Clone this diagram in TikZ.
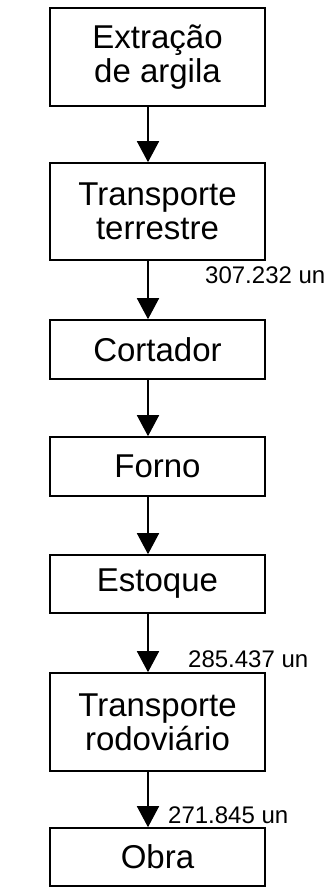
\documentclass[tikz,border=0pt]{standalone}
\usepackage{fontspec}
\setmainfont{Liberation Sans}
\usetikzlibrary{arrows.meta}

\tikzset{
  etapa/.style={draw, line width=1.6pt, minimum width=215pt, align=center,
    inner sep=0pt, font=\fontsize{33}{34}\selectfont},
  fluxo/.style={line width=1.6pt, -{Triangle[width=22pt,length=21pt]}},
  qtd/.style={anchor=west, inner sep=0pt, font=\fontsize{24}{24}\selectfont}
}

\begin{document}
\begin{tikzpicture}[x=1pt,y=-1pt]
   \useasboundingbox (0,0) rectangle (331,889);
   \coordinate (eixo) at (148,0);
   \node[etapa, minimum height=98pt] (extracao) at (157.5,57) {Extração\\de argila};
   \node[etapa, minimum height=97pt] (terrestre) at (157.5,211.5) {Transporte\\terrestre};
   \node[etapa, minimum height=59pt] (cortador) at (157.5,349.5) {Cortador};
   \node[etapa, minimum height=59pt] (forno) at (157.5,466.5) {Forno};
   \node[etapa, minimum height=58pt] (estoque) at (157.5,584) {Estoque};
   \node[etapa, minimum height=98pt] (rodoviario) at (157.5,722) {Transporte\\rodoviário};
   \node[etapa, minimum height=58pt] (obra) at (157.5,857) {Obra};
   % setas entre as etapas
   \draw[fluxo] (extracao.south -| eixo) -- (terrestre.north -| eixo);
   \draw[fluxo] (terrestre.south -| eixo) -- (cortador.north -| eixo);
   \draw[fluxo] (cortador.south -| eixo) -- (forno.north -| eixo);
   \draw[fluxo] (forno.south -| eixo) -- (estoque.north -| eixo);
   \draw[fluxo] (estoque.south -| eixo) -- (rodoviario.north -| eixo);
   \draw[fluxo] (rodoviario.south -| eixo) -- (obra.north -| eixo);
   % quantidades
   \node[qtd] (q1) at (205,275) {307.232 un};
   \node[qtd] (q2) at (188,659) {285.437 un};
   \node[qtd] (q3) at (168,815) {271.845 un};
\end{tikzpicture}
\end{document}
